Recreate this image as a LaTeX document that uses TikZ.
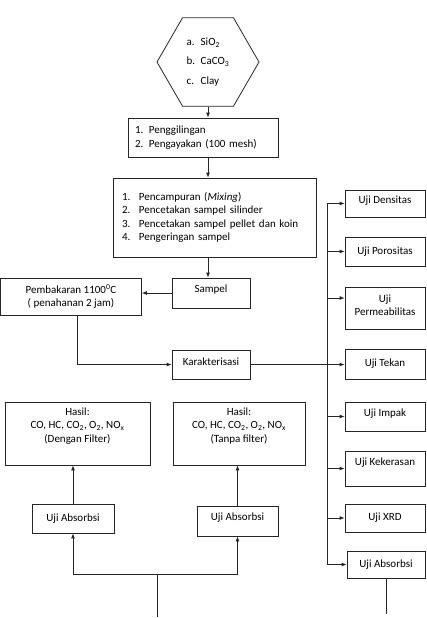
\documentclass[tikz,border=0pt]{standalone}
\usepackage{fontspec}
\setmainfont{Carlito}
\usetikzlibrary{positioning,shapes.geometric,arrows.meta}

\begin{document}
\begin{tikzpicture}[x=1pt,y=-1pt,
  box/.style={draw=black!85,line width=0.8pt,inner sep=2pt,align=center,
    font=\fontsize{11}{13.4}\selectfont},
  garis/.style={draw=black!85,line width=0.8pt},
  arr/.style={garis,-{Latex[length=5pt,width=4pt]}}]
  \useasboundingbox (0,0) rectangle (427,618);
  % bahan baku
  \node[box,regular polygon,regular polygon sides=6,minimum size=102pt,inner sep=0pt,align=left] (bahan) at (208,62)
    {\makebox[14pt][l]{a.}SiO\textsubscript{2}\\[6pt]\makebox[14pt][l]{b.}CaCO\textsubscript{3}\\[6pt]\makebox[14pt][l]{c.}Clay};
  % proses
  \node[box,minimum width=150pt,minimum height=39pt,text width=136pt,align=left] (giling) at (203,137.5)
    {\makebox[14pt][l]{1.}Penggilingan\\\makebox[14pt][l]{2.}Pengayakan (100 mesh)};
  \node[box,minimum width=203pt,minimum height=79pt,text width=185pt,align=left] (campur) at (214.5,217.5)
    {\makebox[17pt][l]{1.}Pencampuran (\textit{Mixing})\\
     \makebox[17pt][l]{2.}Pencetakan sampel silinder\\
     \makebox[17pt][l]{3.}Pencetakan sampel pellet dan koin\\
     \makebox[17pt][l]{4.}Pengeringan sampel};
  \node[box,minimum width=78pt,minimum height=30pt,text depth=8pt] (sampel) at (211,293) {Sampel};
  \node[box,minimum width=141pt,minimum height=37pt] (bakar) at (71,296.5)
    {Pembakaran 1100\textsuperscript{0}C\\( penahanan 2 jam)};
  \node[box,minimum width=78pt,minimum height=29pt,text depth=6pt] (karak) at (211,364.5) {Karakterisasi};
  % pengujian
  \node[box,minimum width=80pt,minimum height=27pt,text depth=7pt] (densitas) at (385,203.5) {Uji Densitas};
  \node[box,minimum width=80pt,minimum height=29pt] (porositas) at (385,251.5) {Uji Porositas};
  \node[box,minimum width=80pt,minimum height=42pt,text depth=6pt] (perm) at (385,308) {Uji\\Permeabilitas};
  \node[box,minimum width=80pt,minimum height=30pt] (tekan) at (385,364) {Uji Tekan};
  \node[box,minimum width=80pt,minimum height=29pt,text depth=7pt] (impak) at (385,416.5) {Uji Impak};
  \node[box,minimum width=80pt,minimum height=35pt,text depth=13pt] (keras) at (385,468.5) {Uji Kekerasan};
  \node[box,minimum width=80pt,minimum height=28pt] (xrd) at (385,518) {Uji XRD};
  \node[box,minimum width=78pt,minimum height=27pt] (absorbR) at (386,564.5) {Uji Absorbsi};
  % hasil absorbsi
  \node[box,minimum width=145pt,minimum height=63pt,text depth=17pt] (hasilL) at (77.5,433.5)
    {Hasil:\\CO, HC, CO\textsubscript{2}, O\textsubscript{2}, NO\textsubscript{x}\\(Dengan Filter)};
  \node[box,minimum width=132pt,minimum height=63pt,text depth=17pt] (hasilR) at (239,433.5)
    {Hasil:\\CO, HC, CO\textsubscript{2}, O\textsubscript{2}, NO\textsubscript{x}\\(Tanpa filter)};
  \node[box,minimum width=82pt,minimum height=29pt] (absL) at (73,518.5) {Uji Absorbsi};
  \node[box,minimum width=81pt,minimum height=30pt,text depth=8pt] (absM) at (237.5,521) {Uji Absorbsi};
  \coordinate (bus) at (327,0);
  \coordinate (pisah) at (157,574);
  \coordinate (dasar) at (157,617);
  \coordinate (ujung) at (386,614);
  % alur
  \draw[arr] (bahan.south) -- (bahan.south |- giling.north);
  \draw[arr] (giling.south -| bahan.south) -- (campur.north -| bahan.south);
  \draw[arr] (campur.south -| bahan.south) -- (sampel.north -| bahan.south);
  \draw[arr] (sampel.west) -- (sampel.west -| bakar.east);
  \draw[arr] ([xshift=6pt]bakar.south) |- (karak.west);
  \draw[arr] (karak.east) -- (karak.east -| tekan.west);
  \draw[garis] (bus |- densitas.west) -- (bus |- absorbR.west);
  \foreach \b in {densitas,porositas,impak,keras,xrd,absorbR}
    \draw[arr] (bus |- \b.west) -- (\b.west);
  \draw[arr] ([yshift=10pt]perm.west -| bus) -- ([yshift=10pt]perm.west);
  \draw[garis] (absorbR.south) -- (ujung);
  \draw[garis] (dasar) -- (pisah);
  \draw[arr] (pisah) -| (absL.south);
  \draw[arr] (pisah) -| (absM.south);
  \draw[arr] (absL.north) -- (absL.north |- hasilL.south);
  \draw[arr] (absM.north) -- (absM.north |- hasilR.south);
\end{tikzpicture}
\end{document}
